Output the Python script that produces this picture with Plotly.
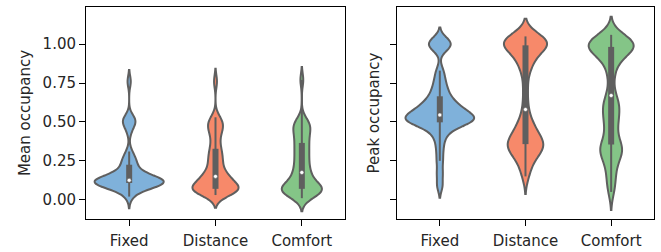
import numpy as np
import plotly.graph_objects as go

# ---------------- data ----------------
categories = ["Fixed", "Distance", "Comfort"]
colors = ["#7fb1da", "#f7896a", "#84c587"]

mean_fixed = [0.02, 0.05, 0.07, 0.08, 0.09, 0.09, 0.10, 0.10, 0.10, 0.10,
              0.11, 0.11, 0.11, 0.11, 0.12, 0.12, 0.12, 0.12, 0.12, 0.12,
              0.13, 0.13, 0.14, 0.14, 0.15, 0.16, 0.17, 0.19, 0.20, 0.22,
              0.24, 0.26, 0.27, 0.31, 0.44, 0.49, 0.50, 0.51, 0.53, 0.76]
mean_distance = [0.03, 0.04, 0.05, 0.05, 0.06, 0.06, 0.06, 0.07, 0.07, 0.07,
                 0.07, 0.08, 0.08, 0.09, 0.10, 0.11, 0.12, 0.13, 0.14, 0.15,
                 0.15, 0.16, 0.18, 0.20, 0.22, 0.24, 0.26, 0.28, 0.30, 0.32,
                 0.35, 0.38, 0.42, 0.44, 0.46, 0.48, 0.49, 0.51, 0.53, 0.76]
mean_comfort = [0.01, 0.02, 0.03, 0.04, 0.05, 0.05, 0.06, 0.06, 0.06, 0.07,
                0.07, 0.08, 0.08, 0.09, 0.10, 0.11, 0.12, 0.14, 0.15, 0.17,
                0.18, 0.20, 0.22, 0.24, 0.26, 0.28, 0.30, 0.32, 0.34, 0.36,
                0.38, 0.40, 0.42, 0.44, 0.46, 0.47, 0.48, 0.50, 0.52, 0.77]

peak_fixed = [0.09, 0.17, 0.25, 0.32, 0.38, 0.42, 0.45, 0.47, 0.48, 0.49,
              0.50, 0.50, 0.51, 0.51, 0.52, 0.52, 0.53, 0.53, 0.54, 0.54,
              0.55, 0.56, 0.57, 0.58, 0.59, 0.60, 0.61, 0.62, 0.64, 0.66,
              0.68, 0.71, 0.74, 0.78, 0.83, 0.97, 0.99, 1.00, 1.01, 1.03]
peak_distance = [0.15, 0.20, 0.24, 0.27, 0.29, 0.31, 0.32, 0.33, 0.34, 0.35,
                 0.36, 0.37, 0.38, 0.39, 0.41, 0.43, 0.45, 0.47, 0.50, 0.54,
                 0.62, 0.72, 0.82, 0.86, 0.89, 0.92, 0.94, 0.96, 0.97, 0.99,
                 1.00, 1.00, 1.01, 1.01, 1.02, 1.02, 1.03, 1.03, 1.04, 1.05]
peak_comfort = [0.05, 0.11, 0.16, 0.21, 0.25, 0.28, 0.30, 0.32, 0.33, 0.34,
                0.36, 0.40, 0.44, 0.48, 0.51, 0.54, 0.57, 0.60, 0.62, 0.64,
                0.70, 0.79, 0.85, 0.89, 0.92, 0.94, 0.95, 0.96, 0.97, 0.98,
                0.99, 0.99, 1.00, 1.00, 1.01, 1.01, 1.02, 1.03, 1.04, 1.06]

y_tick_values = [0.0, 0.25, 0.5, 0.75, 1.0]
y_tick_labels = ["0.00", "0.25", "0.50", "0.75", "1.00"]
y_titles = ["Mean occupancy", "Peak occupancy"]

# ---------------- style ----------------
BW_FACTORS = [0.23, 0.18]
GRAY = "#5f5f5f"
FONT = "DejaVu Sans"
TEXT = "#262626"


def peak_density(v, bw):
    v = np.asarray(v, dtype=float)
    grid = np.linspace(v.min() - 2 * bw, v.max() + 2 * bw, 600)
    d = np.exp(-0.5 * ((grid[:, None] - v[None, :]) / bw) ** 2).sum(axis=1)
    return d.max() / (len(v) * bw)


fig = go.Figure()
panels = [[mean_fixed, mean_distance, mean_comfort],
          [peak_fixed, peak_distance, peak_comfort]]
axis_ids = [("x", "y"), ("x2", "y2")]

for p, groups in enumerate(panels):
    xa, ya = axis_ids[p]
    bws = [BW_FACTORS[p] * float(np.std(g, ddof=1)) for g in groups]
    peaks = [peak_density(g, b) for g, b in zip(groups, bws)]
    pmax = max(peaks)
    for i, (cat, g) in enumerate(zip(categories, groups)):
        fig.add_trace(go.Violin(
            x=[cat] * len(g), y=g, xaxis=xa, yaxis=ya,
            bandwidth=bws[i], spanmode="soft",
            scalemode="width", width=0.8 * peaks[i] / pmax,
            fillcolor=colors[i], opacity=1,
            line=dict(color=GRAY, width=2),
            points=False, box_visible=False, meanline_visible=False,
            showlegend=False, hoverinfo="skip",
        ))
    for i, (cat, g) in enumerate(zip(categories, groups)):
        a = np.asarray(g, dtype=float)
        q1, med, q3 = np.percentile(a, [25, 50, 75])
        iqr = q3 - q1
        lo = a[a >= q1 - 1.5 * iqr].min()
        hi = a[a <= q3 + 1.5 * iqr].max()
        fig.add_trace(go.Scatter(x=[cat, cat], y=[lo, hi], mode="lines",
                                 line=dict(color=GRAY, width=2),
                                 xaxis=xa, yaxis=ya, showlegend=False, hoverinfo="skip"))
        fig.add_trace(go.Scatter(x=[cat, cat], y=[q1, q3], mode="lines",
                                 line=dict(color=GRAY, width=6),
                                 xaxis=xa, yaxis=ya, showlegend=False, hoverinfo="skip"))
        fig.add_trace(go.Scatter(x=[cat], y=[med], mode="markers",
                                 marker=dict(color="white", size=4, line=dict(color=GRAY, width=0.5)),
                                 xaxis=xa, yaxis=ya, showlegend=False, hoverinfo="skip"))

axis_common = dict(showline=True, mirror=True, linecolor="black", linewidth=1,
                   ticks="outside", ticklen=6, tickwidth=1, tickcolor="black",
                   showgrid=False, zeroline=False, automargin=False,
                   tickfont=dict(family=FONT, size=15, color=TEXT))

x_common = dict(axis_common, type="category", categoryorder="array",
                categoryarray=categories, range=[-0.5, 2.5], ticklabelstandoff=2)
y_range = [-0.124, 1.239]

fig.update_layout(
    width=661, height=252,
    margin=dict(l=86, r=7, t=7, b=33),
    paper_bgcolor="white", plot_bgcolor="white",
    violinmode="overlay",
    font=dict(family=FONT, size=15, color=TEXT),
    xaxis=dict(x_common, domain=[0, 0.456], anchor="y"),
    xaxis2=dict(x_common, domain=[0.5475, 1], anchor="y2"),
    yaxis=dict(axis_common, range=y_range, tickvals=y_tick_values, ticktext=y_tick_labels,
               anchor="x", title=dict(text=y_titles[0], standoff=8,
                                      font=dict(family=FONT, size=15, color=TEXT))),
    yaxis2=dict(axis_common, range=y_range, tickvals=y_tick_values, ticktext=y_tick_labels,
                showticklabels=False, anchor="x2",
                title=dict(text=y_titles[1], standoff=6,
                           font=dict(family=FONT, size=15, color=TEXT))),
)

fig.write_html("out.html", config={"displayModeBar": False},
               post_script="document.body.style.margin='0px';")
